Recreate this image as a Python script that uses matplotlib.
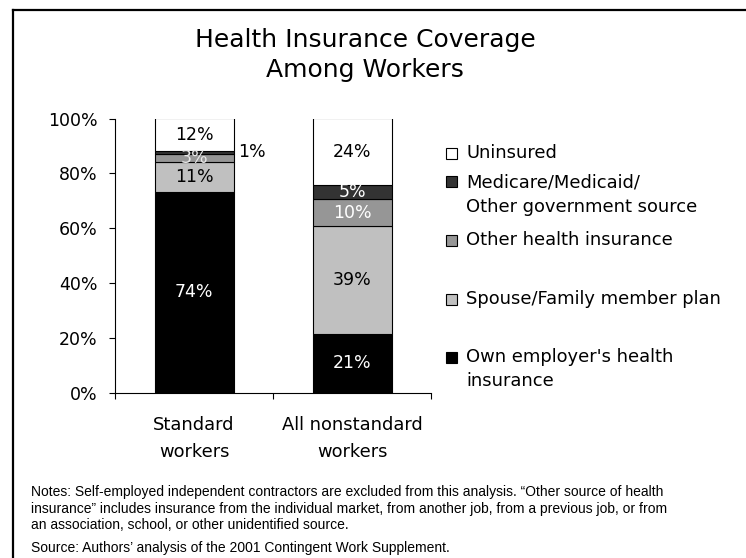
import matplotlib
matplotlib.use("Agg")
import matplotlib.pyplot as plt
from matplotlib.lines import Line2D
from matplotlib.patches import Rectangle
import numpy as np

categories = ["Standard\nworkers", "All nonstandard\nworkers"]
series_names = ["Own employer's health\ninsurance", "Spouse/Family member plan",
                "Other health insurance", "Medicare/Medicaid/\nOther government source",
                "Uninsured"]
standard = [74, 11, 3, 1, 12]
nonstandard = [21, 39, 10, 5, 24]
colors = ["#000000", "#C0C0C0", "#969696", "#333333", "#FFFFFF"]
label_colors_std = ["white", "black", "#E8E8E8", "black", "black"]
label_colors_non = ["white", "black", "white", "white", "black"]
yticks = [0, 20, 40, 60, 80, 100]
ytick_labels = ["0%", "20%", "40%", "60%", "80%", "100%"]

W, H = 746, 558
fig = plt.figure(figsize=(W / 100, H / 100), dpi=100)

def fx(px):
    return px / W

def fy(py):
    return 1 - py / H

main_font = "DejaVu Sans"
note_font = "Liberation Sans"
note_size = 10
fs = 12.5
fs_leg = 12.9

ax = fig.add_axes([fx(115), fy(392.5), fx(431) - fx(115), fy(118.5) - fy(392.5)])

data = np.array([standard, nonstandard], dtype=float)
norm = data / data.sum(axis=1, keepdims=True) * 100
x = np.arange(len(categories))
bottoms = np.zeros(len(categories))
for i in range(data.shape[1]):
    ax.bar(x, norm[:, i], width=0.5, bottom=bottoms, color=colors[i],
           edgecolor="black", linewidth=0.8, zorder=2)
    for j in range(len(categories)):
        val = int(data[j, i])
        mid = bottoms[j] + norm[j, i] / 2
        lc = (label_colors_std if j == 0 else label_colors_non)[i]
        if norm[j, i] < 2:
            ax.annotate(f"{val}%", xy=(x[j] + 0.25, mid), xytext=(3, 0),
                        textcoords="offset points", ha="left", va="center",
                        fontsize=fs, family=main_font, color=lc, zorder=4)
        else:
            ax.text(x[j], mid, f"{val}%", ha="center", va="center",
                    fontsize=fs, family=main_font, color=lc, zorder=4)
    bottoms += norm[:, i]

ax.set_xlim(-0.5, 1.5)
ax.set_ylim(0, 100)
ax.set_yticks(yticks)
ax.set_yticklabels(ytick_labels, family=main_font, fontsize=fs)
ax.set_xticks([-0.5, 0.5, 1.5])
ax.set_xticklabels([])
ax.tick_params(axis="y", direction="out", length=4, width=0.8, pad=8.5)
ax.tick_params(axis="x", direction="out", length=4, width=0.8)
for s in ["top", "right"]:
    ax.spines[s].set_visible(False)
for s in ["left", "bottom"]:
    ax.spines[s].set_linewidth(0.8)

# category labels
cat_px = [194, 352]
for c, lab in zip(cat_px, categories):
    l1, l2 = lab.split("\n")
    fig.text(fx(c), fy(425), l1, ha="center", va="center", fontsize=fs_leg, family=main_font)
    fig.text(fx(c), fy(452), l2, ha="center", va="center", fontsize=fs_leg, family=main_font)

# title
fig.text(fx(365), fy(40), "Health Insurance Coverage", ha="center", va="center",
         fontsize=18, family=main_font)
fig.text(fx(365), fy(70), "Among Workers", ha="center", va="center",
         fontsize=18, family=main_font)

# legend (manual layout)
legend_rows = [
    (4, [153]),
    (3, [182, 207]),
    (2, [240]),
    (1, [299]),
    (0, [357, 381]),
]
sq = 11
for idx, ys in legend_rows:
    yc = ys[0]
    fig.patches.append(Rectangle((fx(446), fy(yc + sq / 2)), sq / W, sq / H,
                                 transform=fig.transFigure, facecolor=colors[idx],
                                 edgecolor="black", linewidth=0.8))
    lines = series_names[idx].split("\n")
    for ln, yy in zip(lines, ys):
        fig.text(fx(466), fy(yy), ln, ha="left", va="center", fontsize=fs_leg,
                 family=main_font)

# notes
notes = [
    (492, "Notes: Self-employed independent contractors are excluded from this analysis. \u201cOther source of health"),
    (509, "insurance\u201d includes insurance from the individual market, from another job, from a previous job, or from"),
    (525, "an association, school, or other unidentified source."),
    (548, "Source: Authors\u2019 analysis of the 2001 Contingent Work Supplement."),
]
for yy, t in notes:
    fig.text(fx(31), fy(yy), t, ha="left", va="center", fontsize=note_size,
             family=[note_font, "DejaVu Sans"])

# frame
fig.add_artist(Line2D([fx(13), 1.01], [fy(9.5), fy(9.5)], transform=fig.transFigure,
                      color="black", linewidth=1.6))
fig.add_artist(Line2D([fx(13), fx(13)], [fy(9.5), -0.01], transform=fig.transFigure,
                      color="black", linewidth=1.6))

fig.savefig("out.png", dpi=100, facecolor="white")
